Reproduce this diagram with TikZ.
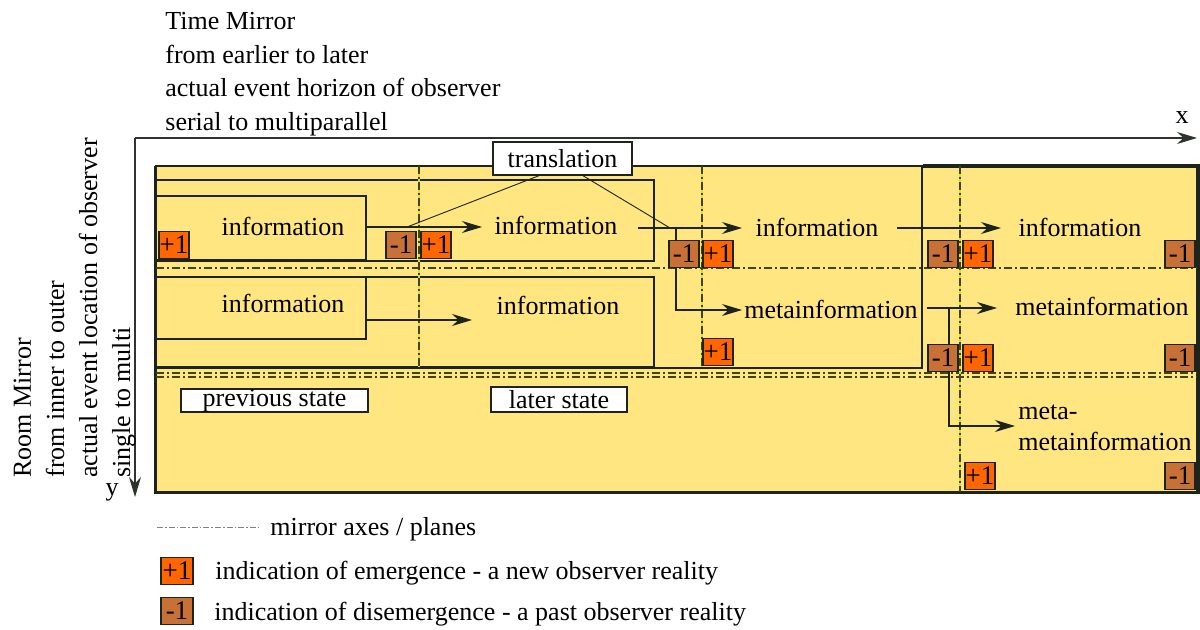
\documentclass[tikz,border=0pt]{standalone}
\usepackage{fontspec}
\setmainfont{Liberation Serif}
\newfontfamily\diagfont{Liberation Serif}
\usepackage{tikz}
\usetikzlibrary{
  positioning,
  arrows.meta
}
\definecolor{mirrorfill}{HTML}{FFE680}
\definecolor{plusorange}{HTML}{FF6600}
\definecolor{minusbrown}{HTML}{C87137}
\definecolor{edgedark}{HTML}{1C241C}
\definecolor{axisgray}{HTML}{2E332E}
\tikzset{
  >=Stealth,
  flowarrow/.style={-{Stealth[length=10pt,width=6pt]},edgedark,line width=0.6pt},
  axisarrow/.style={-{Stealth[length=10pt,width=6pt]},axisgray,line width=0.55pt},
  thinline/.style={edgedark,line width=0.45pt},
  layerbox/.style={rectangle,draw=edgedark,fill=mirrorfill,line width=0.9pt,inner sep=0pt},
  outerline/.style={edgedark,line width=1.6pt},
  labelbox/.style={rectangle,draw=edgedark,fill=white,line width=0.8pt,inner sep=0pt},
  plusbadge/.style={rectangle,draw=edgedark,fill=plusorange,line width=0.9pt,minimum width=15pt,minimum height=13.5pt,inner sep=0pt,font=\diagfont\fontsize{13.5}{14}\selectfont},
  minusbadge/.style={plusbadge,fill=minusbrown},
  mirrorline/.style={edgedark!85!yellow,line width=0.55pt,dash pattern=on 4pt off 1.5pt on 1pt off 1.5pt},
  mirrorglow/.style={yellow!90!black,line width=0.6pt},
  legendline/.style={gray,line width=0.5pt,dash pattern=on 3pt off 1pt on 0.8pt off 1pt}
}

\begin{document}
\begin{tikzpicture}[x=0.5pt,y=-0.5pt,font=\diagfont\fontsize{13}{15.6}\selectfont]
    \useasboundingbox (0,0) rectangle (1200,630);

    % axes
    \coordinate (origin) at (135,138);
    \coordinate (xend) at (1197,138);
    \coordinate (yend) at (135,497);
    \draw[axisarrow] (origin) -- (xend);
    \draw[axisarrow] (origin) -- (yend);
    \node (xlabel) at (1182,118) {x};
    \node (ylabel) at (112,492) {y};

    \foreach \yy/\txt [count=\i] in {30/Time Mirror,63.5/from earlier to later,97/actual event horizon of observer,130.5/serial to multiparallel}
        \node[anchor=base west,inner sep=0pt] (time\i) at (165,\yy) {\txt};
    \foreach \xx/\txt [count=\i] in {31/Room Mirror,64/from inner to outer,97/actual event location of observer,130/single to multi}
        \node[anchor=base west,inner sep=0pt,rotate=90] (room\i) at (\xx,478) {\txt};

    % layers
    \node[layerbox,draw=none,minimum width=520.5pt,minimum height=162.5pt] (outer) at (676.5,329.5) {};
    \node[layerbox,minimum width=383pt,minimum height=101pt] (b3) at (539,267) {};
    \node[layerbox,minimum width=249pt,minimum height=40.5pt] (b2) at (405,220.5) {};
    \node[layerbox,minimum width=105pt,minimum height=32pt] (b1) at (261,228) {};
    \node[layerbox,minimum width=249pt,minimum height=45pt] (b5) at (405,322) {};
    \node[layerbox,minimum width=105pt,minimum height=31pt] (b4) at (261,308) {};
    \draw[outerline] (b3.east |- outer.north) -- (outer.north east) -- (outer.south east) -- (outer.south west) -- (outer.north west);

    % mirror axes
    \foreach \yy in {268,373,377}
        \draw[mirrorline] (156,\yy) -- (1197,\yy);
    \foreach \xx/\yb in {419/367,702/367,960/492} {
        \draw[mirrorglow] (\xx,166) -- (\xx,\yb);
        \draw[mirrorline] (\xx,166) -- (\xx,\yb);
    }

    % texts
    \node (i1) at (283,226) {information};
    \node (i2) at (556,225) {information};
    \node (i3) at (817,227) {information};
    \node (i4) at (1080,227) {information};
    \node (i5) at (283,303) {information};
    \node (i6) at (558,305) {information};
    \node (mi1) at (831,309) {metainformation};
    \node (mi2) at (1102,306) {metainformation};
    \node[anchor=west,align=left,inner sep=0pt] (mmi) at (1018,428) {meta-\\metainformation};
    \node[labelbox,minimum width=93.5pt,minimum height=11.5pt] (prev) at (274.5,400.5) {previous state};
    \node[labelbox,minimum width=68pt,minimum height=12.5pt] (later) at (559,399.5) {later state};
    \node[labelbox,minimum width=69.5pt,minimum height=16.5pt] (tr) at (562.5,158.5) {translation};

    % connectors
    \coordinate (a1) at (482,227);
    \coordinate (s2) at (638,228);
    \coordinate (a2) at (742,228);
    \coordinate (k1) at (676,228);
    \coordinate (a3) at (742,310);
    \coordinate (s3) at (897,228);
    \coordinate (a4) at (1001,228);
    \coordinate (t1) at (407,227);
    \coordinate (t2) at (670,228);
    \coordinate (a5) at (472,320);
    \coordinate (s6) at (927,308);
    \coordinate (a6) at (997,308);
    \coordinate (k2) at (949,308);
    \coordinate (a7) at (1015,426);
    \draw[flowarrow] (b1.east |- a1) -- (a1);
    \draw[flowarrow] (s2) -- (a2);
    \draw[flowarrow] (k1) |- (a3);
    \draw[flowarrow] (s3) -- (a4);
    \draw[flowarrow] (b4.east |- a5) -- (a5);
    \draw[flowarrow] (s6) -- (a6);
    \draw[flowarrow] (k2) |- (a7);
    \draw[thinline] (tr.216) -- (t1);
    \draw[thinline] (tr.-40) -- (t2);

    % emergence / disemergence
    \foreach \x/\y [count=\i] in {174/245,436/245,718/254,978/254,718/352,978/358,980/476}
        \node[plusbadge] (pl\i) at (\x,\y) {+1};
    \foreach \x/\y [count=\i] in {401/245,684/254,943/254,1180/254,943/358,1180/358,1180/476}
        \node[minusbadge] (mn\i) at (\x,\y) {-1};

    % legend
    \coordinate (lg1) at (157,528);
    \coordinate (lg2) at (258,528);
    \draw[legendline] (lg1) -- (lg2);
    \node[anchor=base west,inner sep=0pt] (lgt1) at (270,536) {mirror axes / planes};
    \node[plusbadge,minimum width=16pt] (lgp) at (177,571) {+1};
    \node[anchor=base west,inner sep=0pt] (lgt2) at (215,580) {indication of emergence - a new observer reality};
    \node[minusbadge,minimum width=16pt] (lgm) at (177,611) {-1};
    \node[anchor=base west,inner sep=0pt] (lgt3) at (214,620) {indication of disemergence - a past observer reality};
\end{tikzpicture}
\end{document}
